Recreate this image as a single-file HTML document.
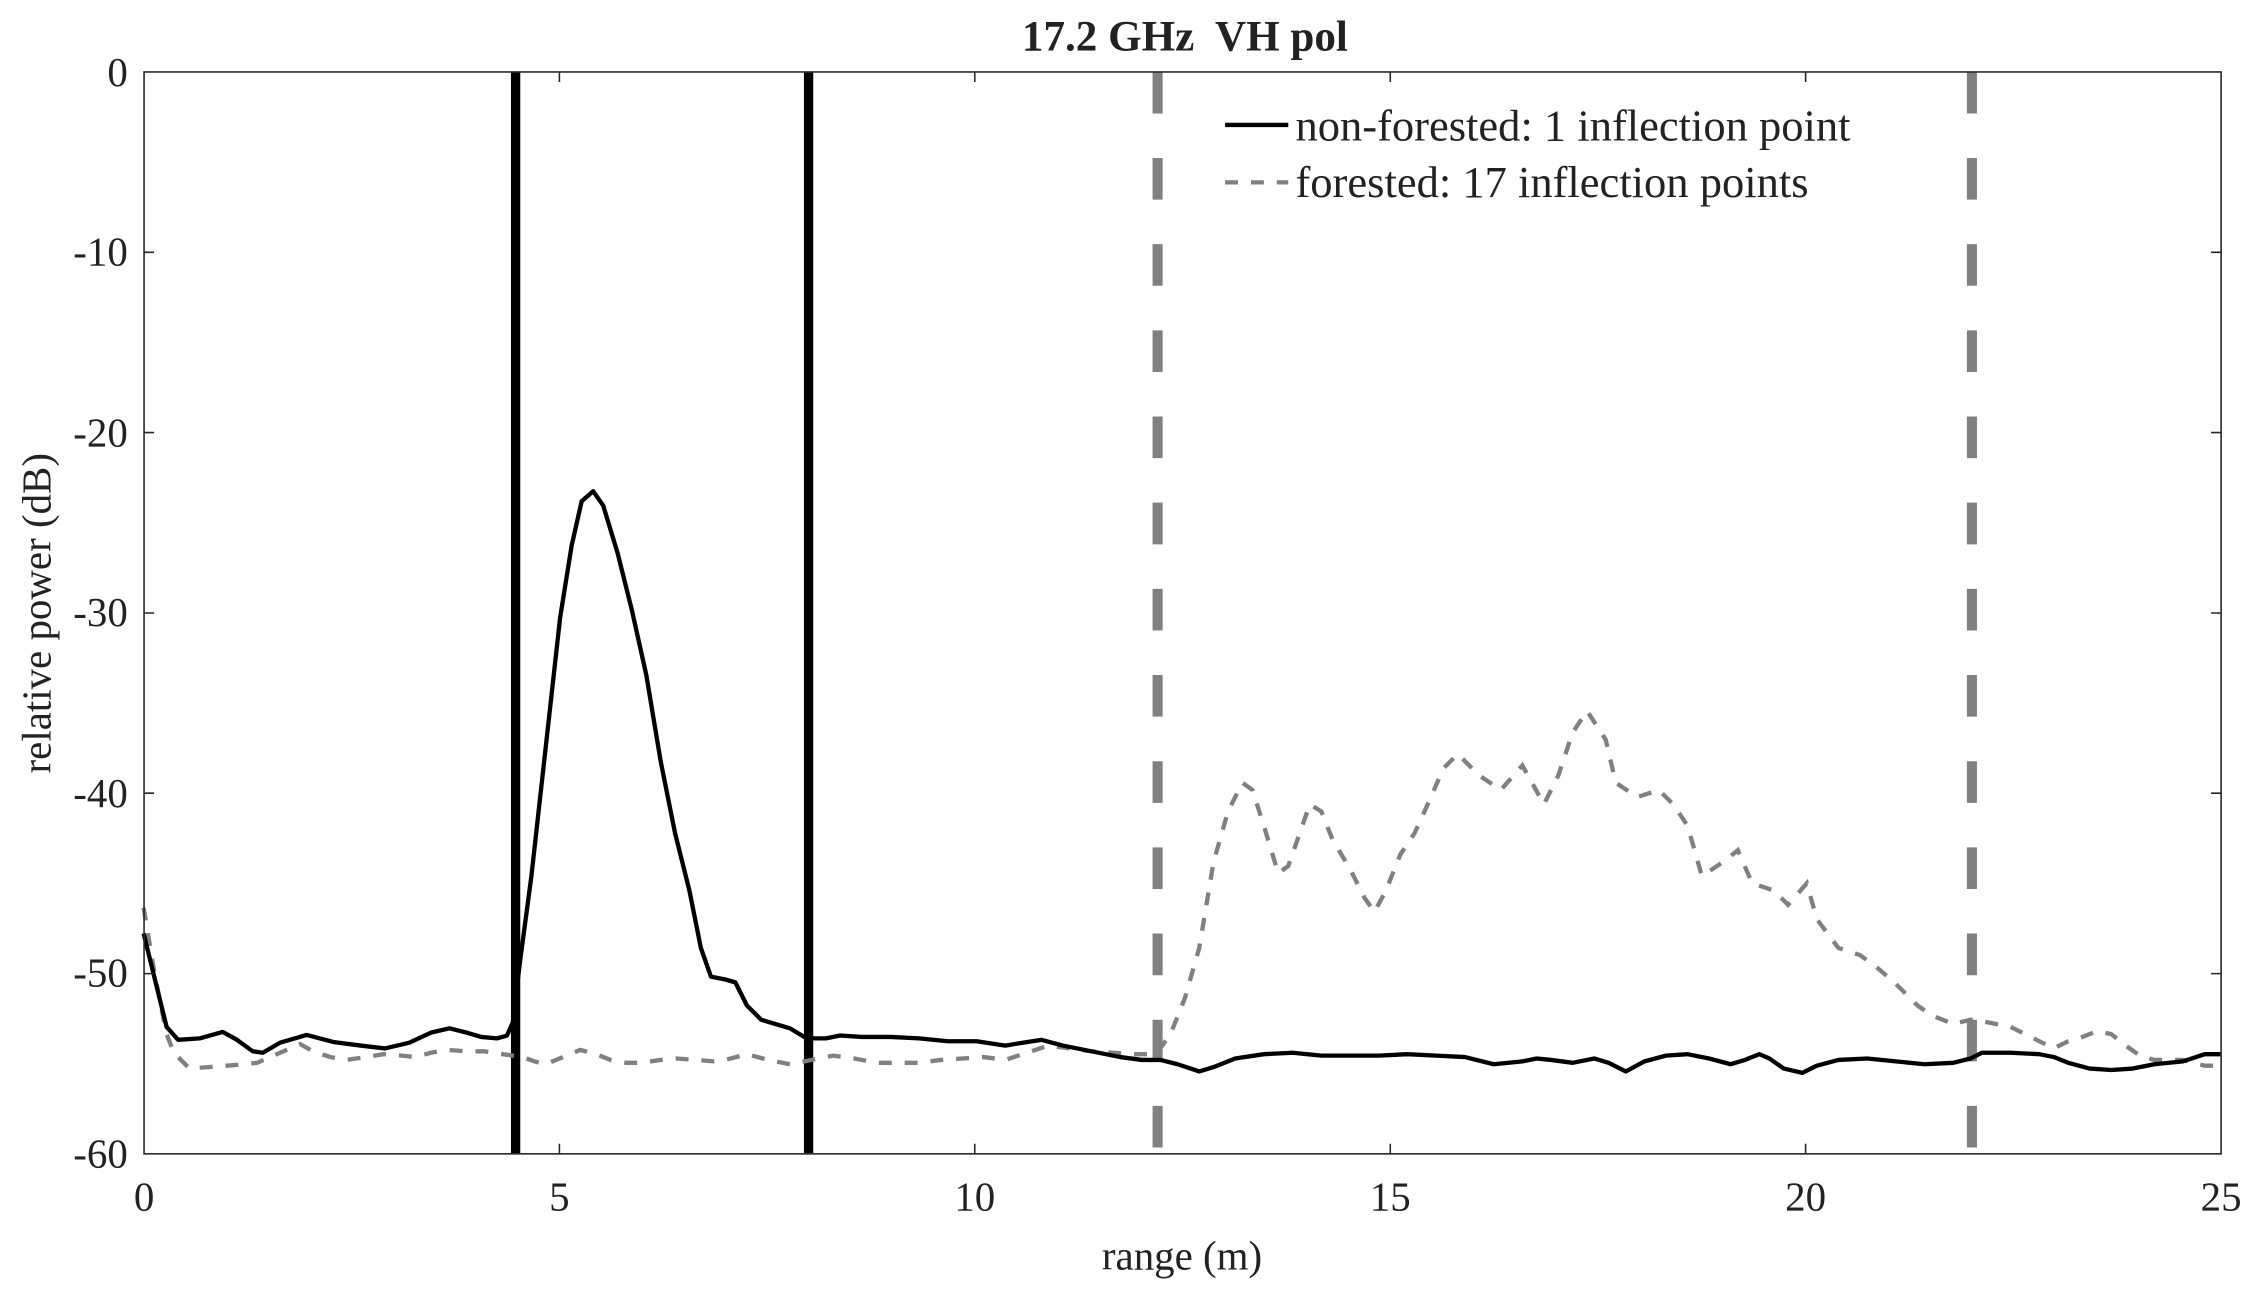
<!DOCTYPE html>
<html><head><meta charset="utf-8"><style>html,body{margin:0;padding:0;background:#fff}svg{display:block}</style></head>
<body>
<svg width="2252" height="1303" viewBox="0 0 2252 1303" xmlns="http://www.w3.org/2000/svg">
<g transform="scale(1.43622)" font-family="Liberation Serif, serif" fill="#222">
<rect x="0" y="0" width="1568" height="908" fill="#fff"/>
<g stroke="#808080" stroke-width="7" stroke-dasharray="29 31">
<line x1="806" y1="50" x2="806" y2="803"/>
<line x1="1373" y1="50" x2="1373" y2="803"/>
</g>
<g stroke="#000" stroke-width="6.5">
<line x1="359" y1="50" x2="359" y2="803"/>
<line x1="563" y1="50" x2="563" y2="803"/>
</g>
<polyline fill="none" stroke="#808080" stroke-width="3" stroke-dasharray="9 9" points="100,632 108,680 116,720 121,733 132,744 145,743 158,742 170,741 179,740 195,733 209,727 218,732 230,736 241,738 255,736 267,734 280,735 289,736 300,733 311,731 325,732 337,732 350,734 364,736 372,739 380,741 392,736 404,731 415,734 425,738 436,740 446,740 460,738 471,737 485,738 497,739 505,738 520,734 535,738 550,741 565,738 580,735 595,737 610,740 625,740 640,740 655,738 670,737 685,736 700,738 715,733 730,728 745,730 760,732 775,733 790,734 805,734 815,720 825,695 835,660 845,600 855,565 865,545 872,550 880,575 890,608 897,603 905,580 912,560 920,565 928,585 940,605 950,625 957,635 965,620 975,595 985,580 995,558 1005,535 1015,525 1030,540 1045,550 1060,533 1075,560 1085,540 1095,510 1105,495 1118,515 1125,545 1140,555 1155,550 1165,560 1175,575 1185,610 1200,600 1210,592 1220,615 1235,620 1245,630 1258,615 1265,640 1280,660 1295,665 1305,672 1320,685 1335,700 1345,707 1360,713 1372,710 1385,712 1400,715 1410,720 1420,725 1430,730 1440,725 1450,722 1460,718 1470,720 1480,728 1490,735 1500,738 1520,738 1535,742 1546,742"/>
<polyline fill="none" stroke="#000" stroke-width="3" stroke-linejoin="round" points="100,650 116,715 124,724 139,723 155,718.5 165,724 176,732 183,733 195,726 213.5,720.6 232,725.5 251,728 268,730 285,726 300,719 313,716 325,719 335,722 346,723 353,721 357,712 362,670 370,610 380,520 390,430 398,380 405,349 413,342 420,352 430,385 440,425 450,470 460,530 470,580 480,620 488,660 495,680 505,682 512,684 520,700 530,710 540,713 550,716 560,722 567,723 575,723 585,721 600,722 620,722 640,723 660,725 680,725 700,728 712,726 725,724 740,728 760,732 780,736 795,738 808,738 820,741 835,746 845,743 860,737 880,734 900,733 920,735 940,735 960,735 980,734 1000,735 1020,736 1040,741 1060,739 1070,737 1080,738 1095,740 1110,737 1120,740 1132,746 1145,739 1160,735 1175,734 1190,737 1205,741 1215,738 1225,734 1232,737 1242,744 1255,747 1265,742 1280,738 1300,737 1320,739 1340,741 1360,740 1372,737 1380,733 1400,733 1420,734 1430,736 1440,740 1455,744 1470,745 1485,744 1500,741 1520,739 1535,734 1546,734"/>
<rect x="100.3" y="50.1" width="1446.2" height="753.3" fill="none" stroke="#262626" stroke-width="1.1"/>
<g stroke="#262626" stroke-width="1.1">
<path d="M389.5,803.4v-7M389.5,50.1v7M678.7,803.4v-7M678.7,50.1v7M968,803.4v-7M968,50.1v7M1257.2,803.4v-7M1257.2,50.1v7"/>
<path d="M100.3,175.7h7M1546.5,175.7h-7M100.3,301.2h7M1546.5,301.2h-7M100.3,426.8h7M1546.5,426.8h-7M100.3,552.3h7M1546.5,552.3h-7M100.3,677.9h7M1546.5,677.9h-7"/>
</g>
<g font-size="28.5" text-anchor="end">
<text x="89" y="60">0</text><text x="89" y="185">-10</text><text x="89" y="311">-20</text><text x="89" y="436">-30</text><text x="89" y="562">-40</text><text x="89" y="687">-50</text><text x="89" y="813">-60</text>
</g>
<g font-size="28.5" text-anchor="middle">
<text x="100.3" y="843">0</text><text x="389.5" y="843">5</text><text x="678.7" y="843">10</text><text x="968" y="843">15</text><text x="1257.2" y="843">20</text><text x="1546.5" y="843">25</text>
<text x="823" y="884">range (m)</text>
<text x="825" y="35" font-size="30" font-weight="bold" xml:space="preserve">17.2 GHz  VH pol</text>
<text transform="translate(35,427) rotate(-90)">relative power (dB)</text>
</g>
<line x1="853" y1="87" x2="897" y2="87" stroke="#000" stroke-width="3"/>
<line x1="853" y1="127" x2="897" y2="127" stroke="#808080" stroke-width="3" stroke-dasharray="9 9"/>
<g font-size="31">
<text x="902" y="98">non-forested: 1 inflection point</text>
<text x="902" y="137">forested: 17 inflection points</text>
</g>
</g>
</svg>
</body></html>
